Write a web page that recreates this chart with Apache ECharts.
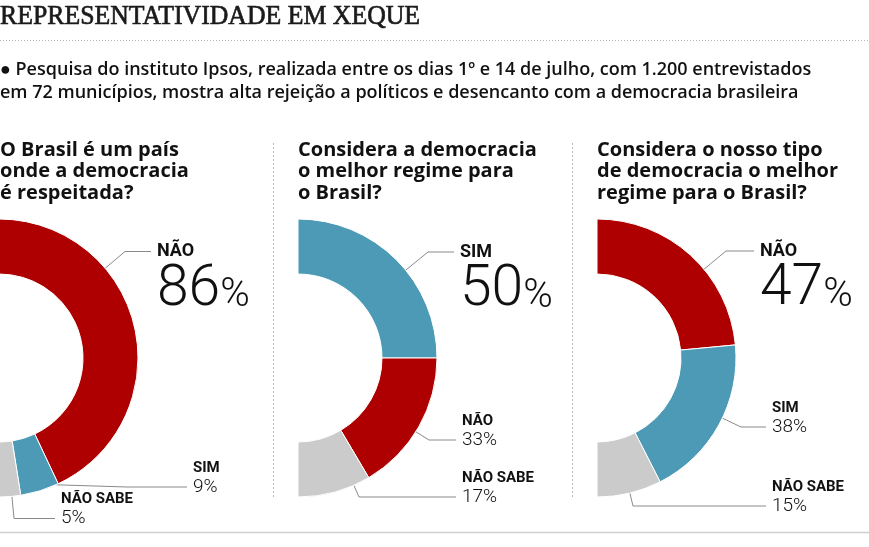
<!DOCTYPE html>
<html>
<head>
<meta charset="utf-8">
<script src="https://cdn.jsdelivr.net/npm/echarts@6/dist/echarts.min.js"></script>
<style>
html,body{margin:0;padding:0;background:#fff;}
#chart{width:869px;height:547px;}
</style>
</head>
<body>
<div id="chart"></div>
<script>
// ---- data ----
const chartTitle = 'REPRESENTATIVIDADE EM XEQUE';
const introLines = [
  '\u25CF Pesquisa do instituto Ipsos, realizada entre os dias 1º e 14 de julho, com 1.200 entrevistados',
  'em 72 municípios, mostra alta rejeição a políticos e desencanto com a democracia brasileira'
];
const question1 = ['O Brasil é um país', 'onde a democracia', 'é respeitada?'];
const question2 = ['Considera a democracia', 'o melhor regime para', 'o Brasil?'];
const question3 = ['Considera o nosso tipo', 'de democracia o melhor', 'regime para o Brasil?'];
const categories1 = ['NÃO', 'SIM', 'NÃO SABE'];
const values1 = [86, 9, 5];
const categories2 = ['SIM', 'NÃO', 'NÃO SABE'];
const values2 = [50, 33, 17];
const categories3 = ['NÃO', 'SIM', 'NÃO SABE'];
const values3 = [47, 38, 15];

// ---- layout / style ----
const colorOf = { 'NÃO': '#AE0000', 'SIM': '#4C9AB5', 'NÃO SABE': '#CBCBCB' };
const R_IN = 84, R_OUT = 139;
const panels = [
  { q: question1, cats: categories1, vals: values1, center: [-1, 358], textX: 0,
    labelPos: [[151, 251.5], [187, 487], [55, 518.5]], lead: [26, 60, 41] },
  { q: question2, cats: categories2, vals: values2, center: [298, 358], textX: 298,
    labelPos: [[454, 252], [456, 440], [456, 497]], lead: [26, 27, 97] },
  { q: question3, cats: categories3, vals: values3, center: [597, 358], textX: 597,
    labelPos: [[754, 251], [766, 427], [766, 506]], lead: [28, 25, 133] }
];
const FONT = 'Roboto, "Noto Sans", sans-serif';
const FONT2 = '"Open Sans", Roboto, sans-serif';

const chart = echarts.init(document.getElementById('chart'));

// angular range (degrees clockwise from top, half-circle) of each slice
function sliceRanges(vals) {
  const total = vals.reduce(function (a, b) { return a + b; }, 0);
  let cum = 0;
  return vals.map(function (v) {
    const a0 = 180 * cum / total;
    cum += v;
    return [a0, 180 * cum / total];
  });
}

const series = panels.map(function (p) {
  const ranges = sliceRanges(p.vals);
  return {
    type: 'pie',
    center: p.center,
    radius: [R_IN, R_OUT],
    startAngle: 90,
    endAngle: -90,
    clockwise: true,
    avoidLabelOverlap: false,
    animation: false,
    silent: true,
    emphasis: { disabled: true },
    itemStyle: { borderColor: '#ffffff', borderWidth: 1 },
    label: {
      show: true,
      position: 'outside',
      width: 110,
      overflow: 'none',
      color: '#111',
      fontFamily: FONT,
      formatter: function (params) {
        if (params.dataIndex === 0) {
          return '{n|' + params.name + '}\n{v|' + params.value + '}{p|%}';
        }
        return '{s|' + params.name + '}\n{w|' + params.value + '%}';
      },
      rich: {
        n: { fontFamily: FONT, fontSize: 18, fontWeight: 'bold', lineHeight: 22, color: '#111' },
        v: { fontFamily: FONT, fontSize: 57, fontWeight: 300, lineHeight: 56, color: '#111' },
        p: { fontFamily: FONT, fontSize: 40, fontWeight: 300, lineHeight: 56, color: '#111', padding: [11, 0, 0, 0] },
        s: { fontFamily: FONT, fontSize: 15, fontWeight: 'bold', lineHeight: 18, color: '#111' },
        w: { fontFamily: FONT, fontSize: 19, fontWeight: 300, lineHeight: 20, color: '#111' }
      }
    },
    labelLine: { show: true, length: 10, lineStyle: { color: '#8a8a8a', width: 1 } },
    labelLayout: function (params) {
      const i = params.dataIndex;
      const pos = p.labelPos[i];
      const pt0 = [pos[0], pos[1]];
      const pt1 = [pos[0] - p.lead[i], pos[1]];
      let th = Math.atan2(pt1[0] - p.center[0], -(pt1[1] - p.center[1])) * 180 / Math.PI;
      th = Math.max(ranges[i][0] + 1, Math.min(ranges[i][1] - 1, th));
      const rad = th * Math.PI / 180;
      const pt2 = [p.center[0] + R_OUT * Math.sin(rad), p.center[1] - R_OUT * Math.cos(rad)];
      return {
        x: pos[0], y: pos[1], align: 'left', verticalAlign: 'middle',
        labelLinePoints: [pt2, pt1, pt0]
      };
    },
    data: p.cats.map(function (c, i) {
      return {
        name: c,
        value: p.vals[i],
        itemStyle: { color: colorOf[c] },
        label: { padding: i === 0 ? [56, 0, 0, 6] : [0, 0, 18, 6] }
      };
    })
  };
});

const graphics = [];
graphics.push({
  type: 'text', x: 0, y: 17, scaleX: 0.92, originX: 0,
  style: { text: chartTitle, font: 'normal 28px "Liberation Serif", serif', fill: '#1a1a1a',
    stroke: '#1a1a1a', lineWidth: 0.7, textVerticalAlign: 'middle' }
});
graphics.push({
  type: 'line', shape: { x1: 0, y1: 40.5, x2: 869, y2: 40.5 },
  style: { stroke: '#b5b5b5', lineWidth: 1, lineDash: [1, 2] }
});
introLines.forEach(function (t, i) {
  graphics.push({
    type: 'text', x: 0, y: 70 + i * 23,
    style: { text: t, font: '600 18px ' + FONT2, fill: '#111', textVerticalAlign: 'middle' }
  });
});
panels.forEach(function (p) {
  p.q.forEach(function (t, i) {
    graphics.push({
      type: 'text', x: p.textX, y: 150 + i * 21.5,
      style: { text: t, font: 'bold 20px ' + FONT2, fill: '#111', textVerticalAlign: 'middle' }
    });
  });
});
[273.5, 572.5].forEach(function (x) {
  graphics.push({
    type: 'line', shape: { x1: x, y1: 143, x2: x, y2: 498 },
    style: { stroke: '#bdbdbd', lineWidth: 1, lineDash: [2, 2] }
  });
});
graphics.push({
  type: 'line', shape: { x1: 0, y1: 532.5, x2: 869, y2: 532.5 },
  style: { stroke: '#cfcfcf', lineWidth: 1.5 }
});

chart.setOption({
  backgroundColor: '#ffffff',
  animation: false,
  series: series,
  graphic: graphics
});
</script>
</body>
</html>
